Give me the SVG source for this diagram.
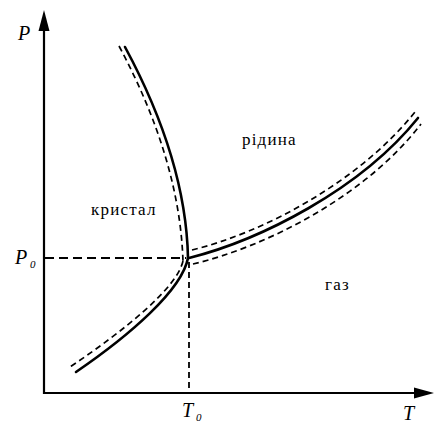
<svg xmlns="http://www.w3.org/2000/svg" width="434" height="425" viewBox="0 0 434 425">
<style>
.axis{stroke:#000;stroke-width:2.2;fill:none}
.solid{stroke:#000;stroke-width:2.6;fill:none;stroke-linecap:round}
.dash{stroke:#000;stroke-width:1.7;fill:none;stroke-dasharray:6 4}
.guide{stroke:#000;stroke-width:2;fill:none;stroke-dasharray:9 5}
.lbl{font-size:17px;letter-spacing:1.2px;fill:#000}
.var{font-style:italic;font-size:20px;fill:#000}
.sub{font-style:italic;font-size:11px;fill:#000}
</style>
<rect width="434" height="425" fill="#fff"/>
<g id="axes">
<line class="axis" x1="44" y1="394" x2="44" y2="26"/>
<polygon points="44,10 38.5,31 49.5,31" fill="#000"/>
<line class="axis" x1="43" y1="393" x2="418" y2="393"/>
<polygon points="434,393 414,387.5 414,398.5" fill="#000"/>
</g>
<g id="guides">
<line class="guide" x1="45" y1="258" x2="186" y2="258"/>
<line class="guide" x1="189" y1="262" x2="189" y2="392" style="stroke-dasharray:6 4;stroke-width:1.8"/>
</g>
<g id="connectors">
<path class="solid" d="M125,47 Q186,160 188,258"/>
<path class="dash" d="M119,46 Q180,160 183,262"/>
<path class="solid" d="M188,258 C182,290 130,335 76,372"/>
<path class="dash" d="M183,261 C177,288 125,330 70,367"/>
<path class="solid" d="M189,258 C260,240 360,190 418,118"/>
<path class="dash" d="M192,250 C262,233 358,183 415,112"/>
<path class="dash" d="M193,264 C265,247 365,197 421,124"/>
</g>
<g id="labels" font-family="Liberation Serif, serif">
<text class="var" x="18" y="40">P</text>
<text class="var" x="15" y="264">P</text><text class="sub" x="30" y="268">0</text>
<text class="var" x="182" y="417">T</text><text class="sub" x="196" y="421">0</text>
<text class="var" x="403" y="420">T</text>
<text class="lbl" x="242" y="145">рідина</text>
<text class="lbl" x="91" y="215">кристал</text>
<text class="lbl" x="325" y="290">газ</text>
</g>
</svg>
